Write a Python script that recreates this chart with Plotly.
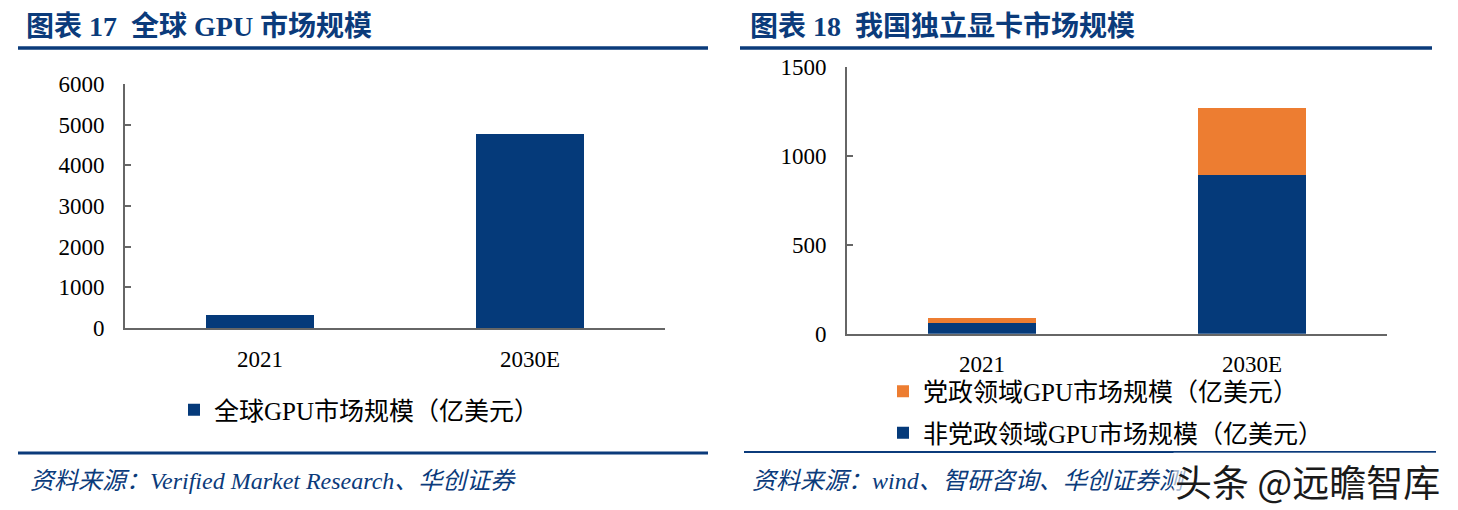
import plotly.graph_objects as go

# ---- data ----
left_categories = ["2021", "2030E"]
global_gpu = [320, 4770]
left_series_name = "全球GPU市场规模（亿美元）"

right_categories = ["2021", "2030E"]
non_party_gpu = [62, 891]
party_gpu = [25, 375]
non_party_name = "非党政领域GPU市场规模（亿美元）"
party_name = "党政领域GPU市场规模（亿美元）"

left_title = "图表 17  全球 GPU 市场规模"
right_title = "图表 18  我国独立显卡市场规模"
left_source = "资料来源：Verified Market Research、华创证券"
right_source = "资料来源：wind、智研咨询、华创证券测"
watermark = "头条 @远瞻智库"

# ---- style ----
W, H = 1458, 510
OFF = 8  # page body margin offset
BLUE = "#053A7A"
ORANGE = "#ED7D31"
TITLE_C = "#0B3B7B"
AXIS_C = "#666666"
SERIF = "Liberation Serif, Noto Sans CJK SC, serif"


def px_x(x):
    return (x - OFF) / W


def px_y(y):
    return 1 - (y - OFF) / H


fig = go.Figure()

fig.add_trace(go.Bar(x=left_categories, y=global_gpu, name=left_series_name,
                     marker=dict(color=BLUE, line=dict(width=0)),
                     xaxis="x", yaxis="y", legend="legend"))
fig.add_trace(go.Bar(x=right_categories, y=non_party_gpu, name=non_party_name,
                     marker=dict(color=BLUE, line=dict(width=0)),
                     xaxis="x2", yaxis="y2", legend="legend2",
                     legendgroup="a", legendrank=2))
fig.add_trace(go.Bar(x=right_categories, y=party_gpu, name=party_name,
                     marker=dict(color=ORANGE, line=dict(width=0)),
                     xaxis="x2", yaxis="y2", legend="legend2",
                     legendgroup="b", legendrank=1))

xcommon = dict(showline=True, linecolor=AXIS_C, linewidth=2, ticks="",
               showgrid=False, zeroline=False, fixedrange=True,
               automargin=False,
               tickfont=dict(family=SERIF, size=23, color="black"),
               ticklabelstandoff=9)
ycommon = dict(showline=True, linecolor=AXIS_C, linewidth=2, ticks="inside",
               ticklen=6, tickwidth=2, tickcolor=AXIS_C, showgrid=False,
               zeroline=False, fixedrange=True, automargin=False,
               tickfont=dict(family=SERIF, size=23, color="black"),
               ticklabelstandoff=14)

fig.update_layout(
    width=W, height=H, autosize=False,
    margin=dict(l=0, r=0, t=0, b=0, pad=0, autoexpand=False),
    paper_bgcolor="white", plot_bgcolor="white",
    barmode="stack", bargap=0.6,
    xaxis=dict(domain=[px_x(125), px_x(665)], anchor="y", **xcommon),
    yaxis=dict(domain=[px_y(328), px_y(84)], anchor="x", range=[0, 6000],
               dtick=1000, **ycommon),
    xaxis2=dict(domain=[px_x(847), px_x(1387)], anchor="y2", **xcommon),
    yaxis2=dict(domain=[px_y(333.7), px_y(66.7)], anchor="x2",
                range=[0, 1500], dtick=500, **ycommon),
    legend=dict(x=px_x(174), y=px_y(410), xanchor="left", yanchor="middle",
                orientation="v", itemwidth=30, bgcolor="rgba(0,0,0,0)",
                font=dict(family=SERIF, size=25, color="black")),
    legend2=dict(x=px_x(883), y=px_y(412), xanchor="left", yanchor="middle",
                 orientation="v", itemwidth=30, traceorder="grouped",
                 tracegroupgap=6, bgcolor="rgba(0,0,0,0)",
                 font=dict(family=SERIF, size=25, color="black")),
    showlegend=True,
)

shapes = [
    dict(type="line", xref="paper", yref="paper", x0=px_x(18), x1=px_x(708),
         y0=px_y(48), y1=px_y(48), line=dict(color=TITLE_C, width=3.5)),
    dict(type="line", xref="paper", yref="paper", x0=px_x(740), x1=px_x(1432),
         y0=px_y(48), y1=px_y(48), line=dict(color=TITLE_C, width=3.5)),
    dict(type="line", xref="paper", yref="paper", x0=px_x(18), x1=px_x(708),
         y0=px_y(453), y1=px_y(453), line=dict(color=TITLE_C, width=3)),
    dict(type="line", xref="paper", yref="paper", x0=px_x(744), x1=px_x(1436),
         y0=px_y(452), y1=px_y(452), line=dict(color=TITLE_C, width=2)),
]
fig.update_layout(shapes=shapes)

ann = []
ann.append(dict(text="<b>" + left_title + "</b>", x=px_x(24), y=px_y(27),
                xref="paper", yref="paper", xanchor="left", yanchor="middle",
                showarrow=False,
                font=dict(family=SERIF, size=28, color=TITLE_C)))
ann.append(dict(text="<b>" + right_title + "</b>", x=px_x(748), y=px_y(27),
                xref="paper", yref="paper", xanchor="left", yanchor="middle",
                showarrow=False,
                font=dict(family=SERIF, size=28, color=TITLE_C)))
ann.append(dict(text="<i>" + left_source + "</i>", x=px_x(28), y=px_y(481),
                xref="paper", yref="paper", xanchor="left", yanchor="middle",
                showarrow=False,
                font=dict(family=SERIF, size=24, color=TITLE_C)))
ann.append(dict(text="<i>" + right_source + "</i>", x=px_x(750), y=px_y(481),
                xref="paper", yref="paper", xanchor="left", yanchor="middle",
                showarrow=False,
                font=dict(family=SERIF, size=24, color=TITLE_C)))
ann.append(dict(text=watermark, x=px_x(1442), y=px_y(481),
                xref="paper", yref="paper", xanchor="right", yanchor="middle",
                showarrow=False, bgcolor="rgba(255,255,255,0.6)",
                font=dict(family="Noto Sans CJK SC, sans-serif", size=37,
                          color="#1a1a1a")))
fig.update_layout(annotations=ann)

fig.write_html("out.html")
